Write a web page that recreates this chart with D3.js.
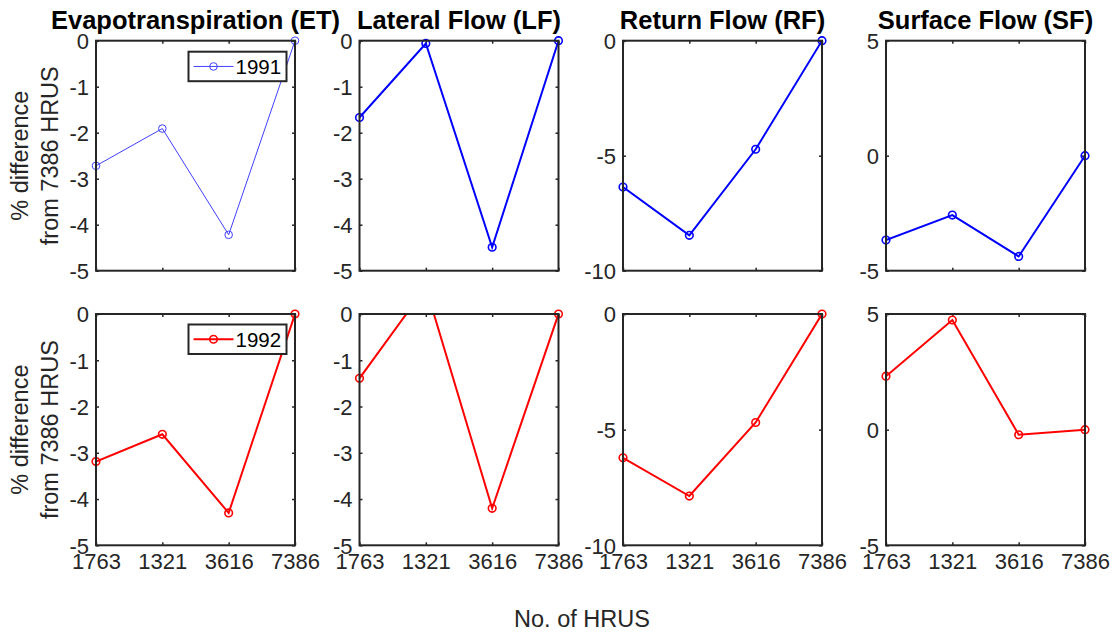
<!DOCTYPE html>
<html><head><meta charset="utf-8">
<script src="https://cdn.jsdelivr.net/npm/d3@7"></script>
<style>body{margin:0;background:#fff}svg{display:block}text{font-family:"Liberation Sans",Arial,sans-serif}</style>
</head><body><svg id="c" width="1115" height="632"></svg>
<script>
const categories = ["1763","1321","3616","7386"];
const titles = ["Evapotranspiration (ET)","Lateral Flow (LF)","Return Flow (RF)","Surface Flow (SF)"];
const et1991 = [-2.72,-1.91,-4.22,0];
const lf1991 = [-1.67,-0.06,-4.49,0];
const rf1991 = [-6.36,-8.46,-4.72,0];
const sf1991 = [-3.67,-2.58,-4.38,0];
const et1992 = [-3.19,-2.60,-4.30,0];
const lf1992 = [-1.39,0.58,-4.20,0];
const rf1992 = [-6.22,-7.87,-4.69,0];
const sf1992 = [2.31,4.74,-0.22,0];
const yDomains = [[-5,0],[-5,0],[-10,0],[-5,5]];
const yTicks = [[-5,-4,-3,-2,-1,0],[-5,-4,-3,-2,-1,0],[-10,-5,0],[-5,0,5]];
const years = ["1991","1992"];
const seriesByRow = [[et1991,lf1991,rf1991,sf1991],[et1992,lf1992,rf1992,sf1992]];
const colors = ["#0000ff","#ff0000"];

const svg = d3.select("#c");
const axisColor = "#262626";
const colX = [96, 359.5, 623, 886];
const pw = 199;
const rowY = [[40.7,270.7],[314,545.3]];

seriesByRow.forEach((row, r) => {
  row.forEach((vals, c) => {
    const x0 = colX[c], x1 = colX[c] + pw;
    const yt = rowY[r][0], yb = rowY[r][1];
    const x = d3.scalePoint().domain(categories).range([x0, x1]).padding(0);
    const y = d3.scaleLinear().domain(yDomains[c]).range([yb, yt]);
    const g = svg.append("g");
    const clipId = `clip-${r}-${c}`;
    svg.append("clipPath").attr("id", clipId).append("rect")
      .attr("x", x0).attr("y", yt).attr("width", pw).attr("height", yb - yt);

    // axes
    const left = d3.axisLeft(y).tickValues(yTicks[c]).tickSize(-3).tickSizeOuter(0).tickPadding(7).tickFormat(d => String(d));
    const gl = g.append("g").attr("transform", `translate(${x0},0)`).call(left);
    const right = d3.axisRight(y).tickValues(yTicks[c]).tickSize(-3).tickSizeOuter(0).tickFormat("");
    const gr = g.append("g").attr("transform", `translate(${x1},0)`).call(right);
    const bottom = d3.axisBottom(x).tickSize(-3).tickSizeOuter(0).tickPadding(8).tickFormat(r === 1 ? (d => d) : "");
    const gb = g.append("g").attr("transform", `translate(0,${yb})`).call(bottom);
    const top = d3.axisTop(x).tickSize(-3).tickSizeOuter(0).tickFormat("");
    const gt = g.append("g").attr("transform", `translate(0,${yt})`).call(top);
    [gl, gr, gb, gt].forEach(a => {
      a.select(".domain").remove();
      a.selectAll(".tick line").attr("stroke", axisColor).attr("stroke-width", 1.5);
      a.selectAll(".tick text").attr("fill", axisColor).style("font-size", "22px");
    });
    gl.selectAll(".tick text").attr("dy", "0.36em");

    // line
    const line = d3.line().x((d, i) => x(categories[i])).y(d => y(d));
    const thin = (r === 0 && c === 0);
    g.append("path").datum(vals).attr("d", line)
      .attr("clip-path", `url(#${clipId})`)
      .attr("fill", "none").attr("stroke", thin ? "#4040ff" : colors[r])
      .attr("stroke-width", thin ? 1 : 2);
    const [lo, hi] = yDomains[c];
    g.selectAll("circle.m").data(vals.map((v, i) => ({v, i})).filter(d => d.v >= lo - 1e-9 && d.v <= hi + 1e-9))
      .join("circle").attr("class", "m")
      .attr("cx", d => x(categories[d.i])).attr("cy", d => y(d.v)).attr("r", 3.8)
      .attr("fill", "none").attr("stroke", thin ? "#4040ff" : colors[r]).attr("stroke-width", thin ? 1 : 1.6);

    // frame
    g.append("rect").attr("x", x0).attr("y", yt).attr("width", pw).attr("height", yb - yt)
      .attr("fill", "none").attr("stroke", axisColor).attr("stroke-width", 2);

    if (r === 0) {
      svg.append("text").attr("x", (x0 + x1) / 2).attr("y", 28.5).attr("text-anchor", "middle")
        .style("font-size", "25.5px").style("font-weight", "bold").attr("fill", "#000").text(titles[c]);
    }
    if (c === 0) {
      const cy = (yt + yb) / 2;
      const lab = svg.append("text").attr("transform", `translate(0,${cy}) rotate(-90)`)
        .attr("text-anchor", "middle").style("font-size", "23.5px").attr("fill", axisColor);
      lab.append("tspan").attr("x", 0).attr("y", 28).text("% difference");
      lab.append("tspan").attr("x", 0).attr("y", 58).text("from 7386 HRUS");

      // legend
      const lx = 188.5, ly = yt + (r === 0 ? 11 : 10.5), lw = 98, lh = 29.5;
      const lg = svg.append("g");
      lg.append("rect").attr("x", lx).attr("y", ly).attr("width", lw).attr("height", lh)
        .attr("fill", "#fff").attr("stroke", axisColor).attr("stroke-width", 2);
      const col = thin ? "#4040ff" : colors[r];
      lg.append("line").attr("x1", lx + 5).attr("x2", lx + 45).attr("y1", ly + lh / 2).attr("y2", ly + lh / 2)
        .attr("stroke", col).attr("stroke-width", thin ? 1 : 2);
      lg.append("circle").attr("cx", lx + 25).attr("cy", ly + lh / 2).attr("r", 3.8)
        .attr("fill", "none").attr("stroke", col).attr("stroke-width", thin ? 1 : 1.6);
      lg.append("text").attr("x", lx + 47).attr("y", ly + lh / 2).attr("dy", "0.36em")
        .style("font-size", "20.5px").attr("fill", "#000").text(years[r]);
    }
  });
});

svg.append("text").attr("x", 582).attr("y", 627).attr("text-anchor", "middle")
  .style("font-size", "23.5px").attr("fill", axisColor).text("No. of HRUS");
</script></body></html>
